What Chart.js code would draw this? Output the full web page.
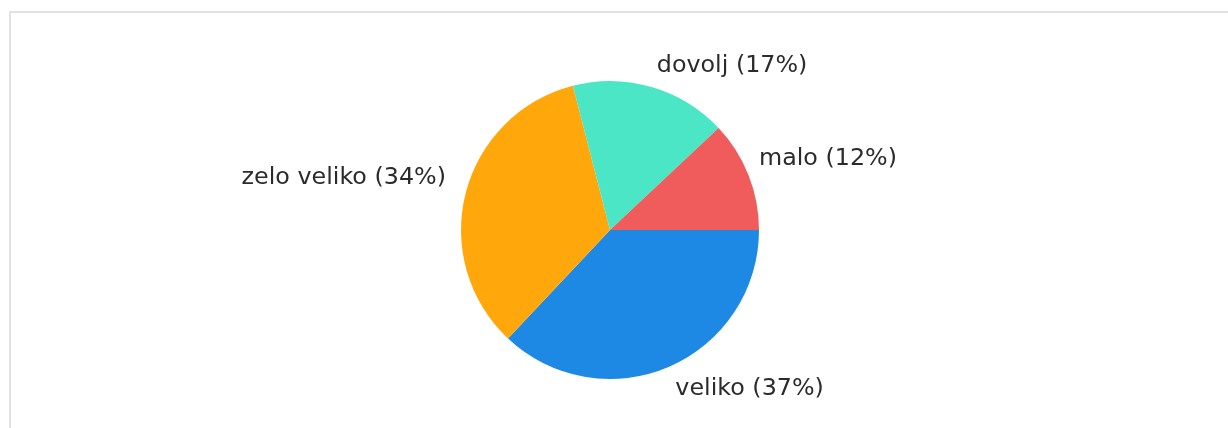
<!DOCTYPE html>
<html>
<head>
<meta charset="utf-8">
<script src="https://cdn.jsdelivr.net/npm/chart.js@4/dist/chart.umd.min.js"></script>
<style>
  html, body { margin: 0; padding: 0; background: #ffffff; overflow: hidden; }
  #wrap { position: relative; width: 1228px; height: 428px; }
</style>
</head>
<body>
<div id="wrap"><canvas id="c" width="1228" height="428"></canvas></div>
<script>
// Data (clockwise from 3 o'clock)
const categories = ['veliko', 'zelo veliko', 'dovolj', 'malo'];
const values = [37, 34, 17, 12];
const colors = ['#1e88e5', '#ffa70b', '#4ae6c5', '#f05b5b'];

const frame = {
  id: 'frame',
  beforeDraw(chart) {
    const ctx = chart.ctx;
    ctx.save();
    ctx.strokeStyle = '#e2e2e2';
    ctx.lineWidth = 2;
    ctx.beginPath();
    ctx.moveTo(10, 440);
    ctx.lineTo(10, 12);
    ctx.lineTo(1240, 12);
    ctx.stroke();
    ctx.restore();
  }
};

const outsideLabels = {
  id: 'outsideLabels',
  afterDatasetsDraw(chart) {
    const ctx = chart.ctx;
    const meta = chart.getDatasetMeta(0);
    const fs = 23.8;
    ctx.save();
    ctx.font = fs + 'px "DejaVu Sans", Verdana, sans-serif';
    ctx.fillStyle = '#2b2b2b';
    ctx.textBaseline = 'alphabetic';
    meta.data.forEach((arc, i) => {
      const mid = (arc.startAngle + arc.endAngle) / 2;
      const r = arc.outerRadius + 8;
      const ax = arc.x + Math.cos(mid) * r;
      const ay = arc.y + Math.sin(mid) * r;
      const text = categories[i] + ' (' + values[i] + '%)';
      const right = Math.cos(mid) >= 0;
      ctx.textAlign = right ? 'left' : 'right';
      const dx = right ? 3 : -12;
      const dy = Math.sin(mid) < 0 ? -7 : 21;
      ctx.fillText(text, ax + dx, ay + dy);
    });
    ctx.restore();
  }
};

new Chart(document.getElementById('c'), {
  type: 'pie',
  data: {
    labels: categories,
    datasets: [{
      data: values,
      backgroundColor: colors,
      borderWidth: 0
    }]
  },
  options: {
    responsive: false,
    animation: false,
    rotation: 90,
    layout: { padding: { left: 0, right: 8, top: 81, bottom: 49 } },
    plugins: {
      legend: { display: false },
      tooltip: { enabled: false }
    }
  },
  plugins: [frame, outsideLabels]
});
</script>
</body>
</html>
